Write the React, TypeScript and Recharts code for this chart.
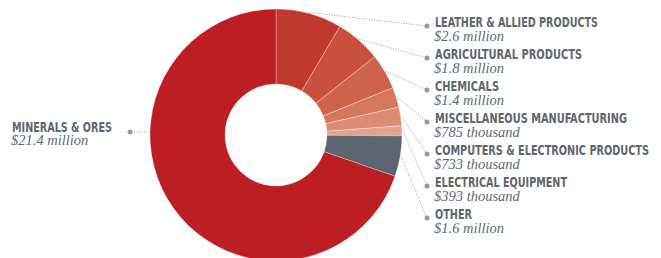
import React from 'react';
import { PieChart, Pie, Cell } from 'recharts';

const categories = [
  'LEATHER & ALLIED PRODUCTS',
  'AGRICULTURAL PRODUCTS',
  'CHEMICALS',
  'MISCELLANEOUS MANUFACTURING',
  'COMPUTERS & ELECTRONIC PRODUCTS',
  'ELECTRICAL EQUIPMENT',
  'OTHER',
  'MINERALS & ORES',
];
// millions of dollars
const values = [2.6, 1.8, 1.4, 0.785, 0.733, 0.393, 1.6, 21.4];
const valueLabels = [
  '$2.6 million',
  '$1.8 million',
  '$1.4 million',
  '$785 thousand',
  '$733 thousand',
  '$393 thousand',
  '$1.6 million',
  '$21.4 million',
];
const colors = ['#c0392e', '#c9503f', '#ce634b', '#d6785f', '#dc8c74', '#e3a48f', '#5c6670', '#bd1e24'];
// rendered widths of the condensed headings (no narrow font installed)
const titleWidths = [163, 147, 64, 192, 214, 132, 37, 100];

const data = categories.map((name, i) => ({ name, value: values[i], label: valueLabels[i] }));

const RAD = Math.PI / 180;
const TITLE_FONT = '"DejaVu Sans Condensed", "DejaVu Sans", sans-serif';
const VALUE_FONT = '"Liberation Serif", "DejaVu Serif", serif';
const TEXT = '#5d6770';
const LEADER = '#8d9ca6';

const renderLabel = (props: any) => {
  const { cx, cy, midAngle, outerRadius, index, payload } = props;
  const last = index === data.length - 1;
  let sx: number, sy: number, dx: number, dy: number, tx: number;
  if (last) {
    dx = 130;
    dy = 132;
    sy = dy;
    sx = cx - Math.sqrt(outerRadius * outerRadius - (dy - cy) * (dy - cy));
    tx = 12;
  } else {
    sx = cx + Math.cos(-midAngle * RAD) * (outerRadius + 1);
    sy = cy + Math.sin(-midAngle * RAD) * (outerRadius + 1);
    dx = 427;
    dy = 26 + index * 32;
    tx = 435;
  }
  const titleY = last ? 132 : dy + 1;
  const valueY = last ? 144.5 : dy + 14.5;
  return (
    <g key={`lbl-${index}`}>
      <line x1={sx} y1={sy} x2={dx} y2={dy} stroke={LEADER} strokeWidth={1} strokeDasharray="1 1.5" />
      <circle cx={dx} cy={dy} r={2.5} fill={LEADER} />
      <text
        x={tx}
        y={titleY}
        fill={TEXT}
        fontFamily={TITLE_FONT}
        fontWeight={700}
        fontSize={13.5}
        textLength={titleWidths[index]}
        lengthAdjust="spacingAndGlyphs"
      >
        {payload.name}
      </text>
      <text x={tx - 1} y={valueY} fill={TEXT} fontFamily={VALUE_FONT} fontStyle="italic" fontSize={14.5}>
        {payload.label}
      </text>
    </g>
  );
};

export default function App() {
  return (
    <div style={{ position: 'absolute', left: 0, top: 0, width: 661, height: 258, background: '#fff' }}>
      <PieChart width={661} height={258} margin={{ top: 0, right: 0, bottom: 0, left: 0 }}>
        <Pie
          data={data}
          dataKey="value"
          nameKey="name"
          cx={276}
          cy={135}
          innerRadius={51}
          outerRadius={126}
          startAngle={90}
          endAngle={-270}
          stroke="#ffffff"
          strokeWidth={0.5}
          strokeOpacity={0.6}
          label={renderLabel}
          labelLine={false}
          isAnimationActive={false}
        >
          {data.map((d, i) => (
            <Cell key={d.name} fill={colors[i]} />
          ))}
        </Pie>
      </PieChart>
    </div>
  );
}
